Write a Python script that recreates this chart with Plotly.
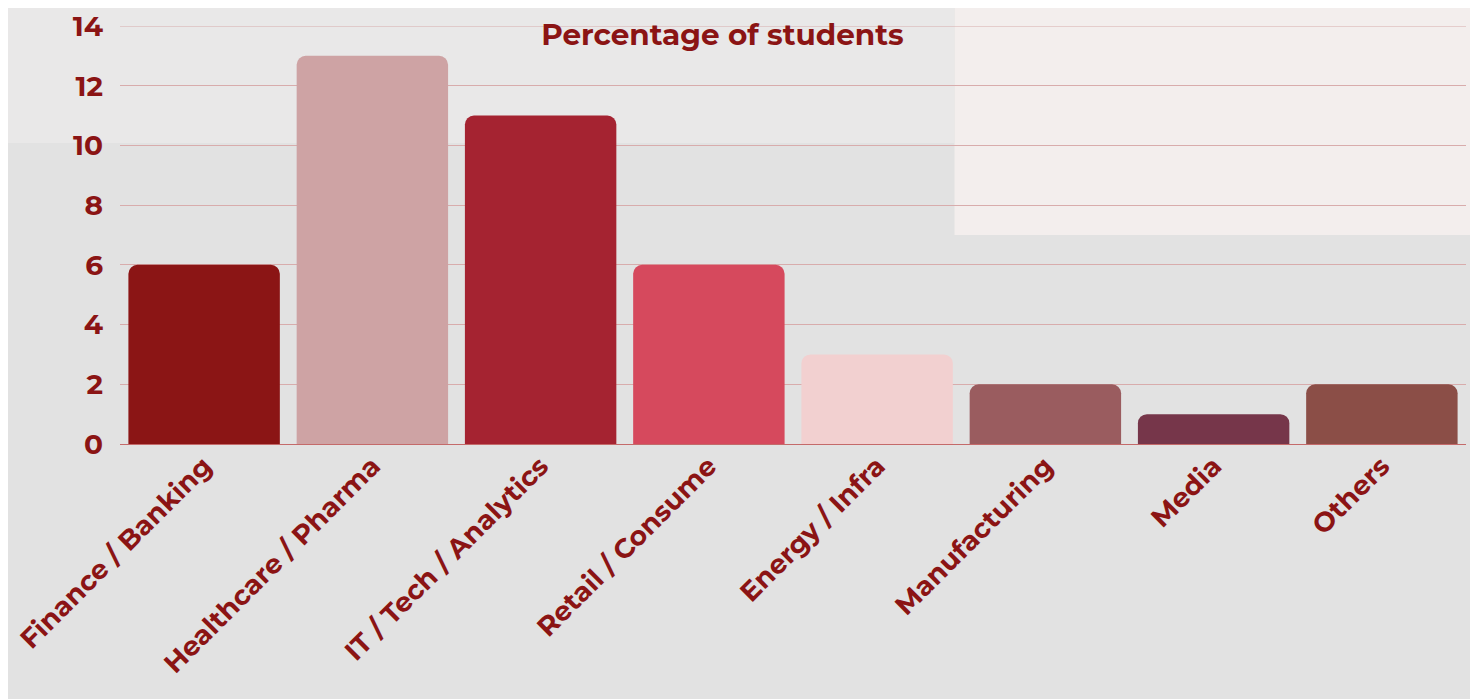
import plotly.graph_objects as go

# Data
sectors = ['Finance / Banking', 'Healthcare / Pharma', 'IT / Tech / Analytics',
           'Retail / Consume', 'Energy / Infra', 'Manufacturing', 'Media', 'Others']
percent = [6, 13, 11, 6, 3, 2, 1, 2]
bar_colors = ['#8b1515', '#cea3a4', '#a52331', '#d6495d',
              '#f2d0d0', '#9a5c5f', '#76364a', '#8b4e47']

text_color = '#8b1414'
font_family = 'Montserrat, "Open Sans", Lato, sans-serif'

fig = go.Figure()

fig.add_trace(go.Bar(
    x=sectors,
    y=percent,
    marker=dict(color=bar_colors, cornerradius=9, line=dict(width=0)),
    showlegend=False,
    hovertemplate='%{x}: %{y}%<extra></extra>'
))

# faded backdrop instead of the photo
fig.add_shape(type='rect', xref='paper', yref='paper', x0=-0.1, x1=1.02, y0=-0.8, y1=1.1,
              fillcolor='#e2e2e2', line_width=0, layer='below')
fig.add_shape(type='rect', xref='paper', yref='paper', x0=0.62, x1=1.02, y0=0.5, y1=1.1,
              fillcolor='#f3eeed', line_width=0, layer='below')
fig.add_shape(type='rect', xref='paper', yref='paper', x0=-0.1, x1=0.62, y0=0.72, y1=1.1,
              fillcolor='#e9e8e8', line_width=0, layer='below')

fig.update_layout(
    width=1470,
    height=691,
    paper_bgcolor='#e2e2e2',
    plot_bgcolor='rgba(0,0,0,0)',
    margin=dict(l=112, r=12, t=18, b=255, autoexpand=False),
    bargap=0.1,
    font=dict(family=font_family, color=text_color),
    title=dict(
        text='<b>Percentage of students</b>',
        x=0.486, xref='container', xanchor='center',
        y=0.962, yref='container', yanchor='middle',
        font=dict(size=29.5, color=text_color, family=font_family)
    )
)

fig.update_yaxes(
    range=[0, 14],
    dtick=2,
    automargin=False,
    ticklabeloverflow='allow',
    showgrid=True,
    gridcolor='#d8acac',
    gridwidth=1,
    zeroline=True,
    zerolinecolor='#c46a6a',
    zerolinewidth=1,
    ticks='',
    ticklabelstandoff=16,
    tickfont=dict(size=28, color=text_color, family=font_family, weight='bold')
)

fig.update_xaxes(
    tickangle=-45,
    automargin=False,
    ticklabeloverflow='allow',
    showgrid=False,
    ticks='',
    tickfont=dict(size=27, color=text_color, family=font_family, weight='bold')
)

# top boundary line at 14 (plotly skips the grid line on the plot edge)
fig.add_hline(y=14, line=dict(color='#d8acac', width=1), layer='below')

fig.write_html("out.html")
